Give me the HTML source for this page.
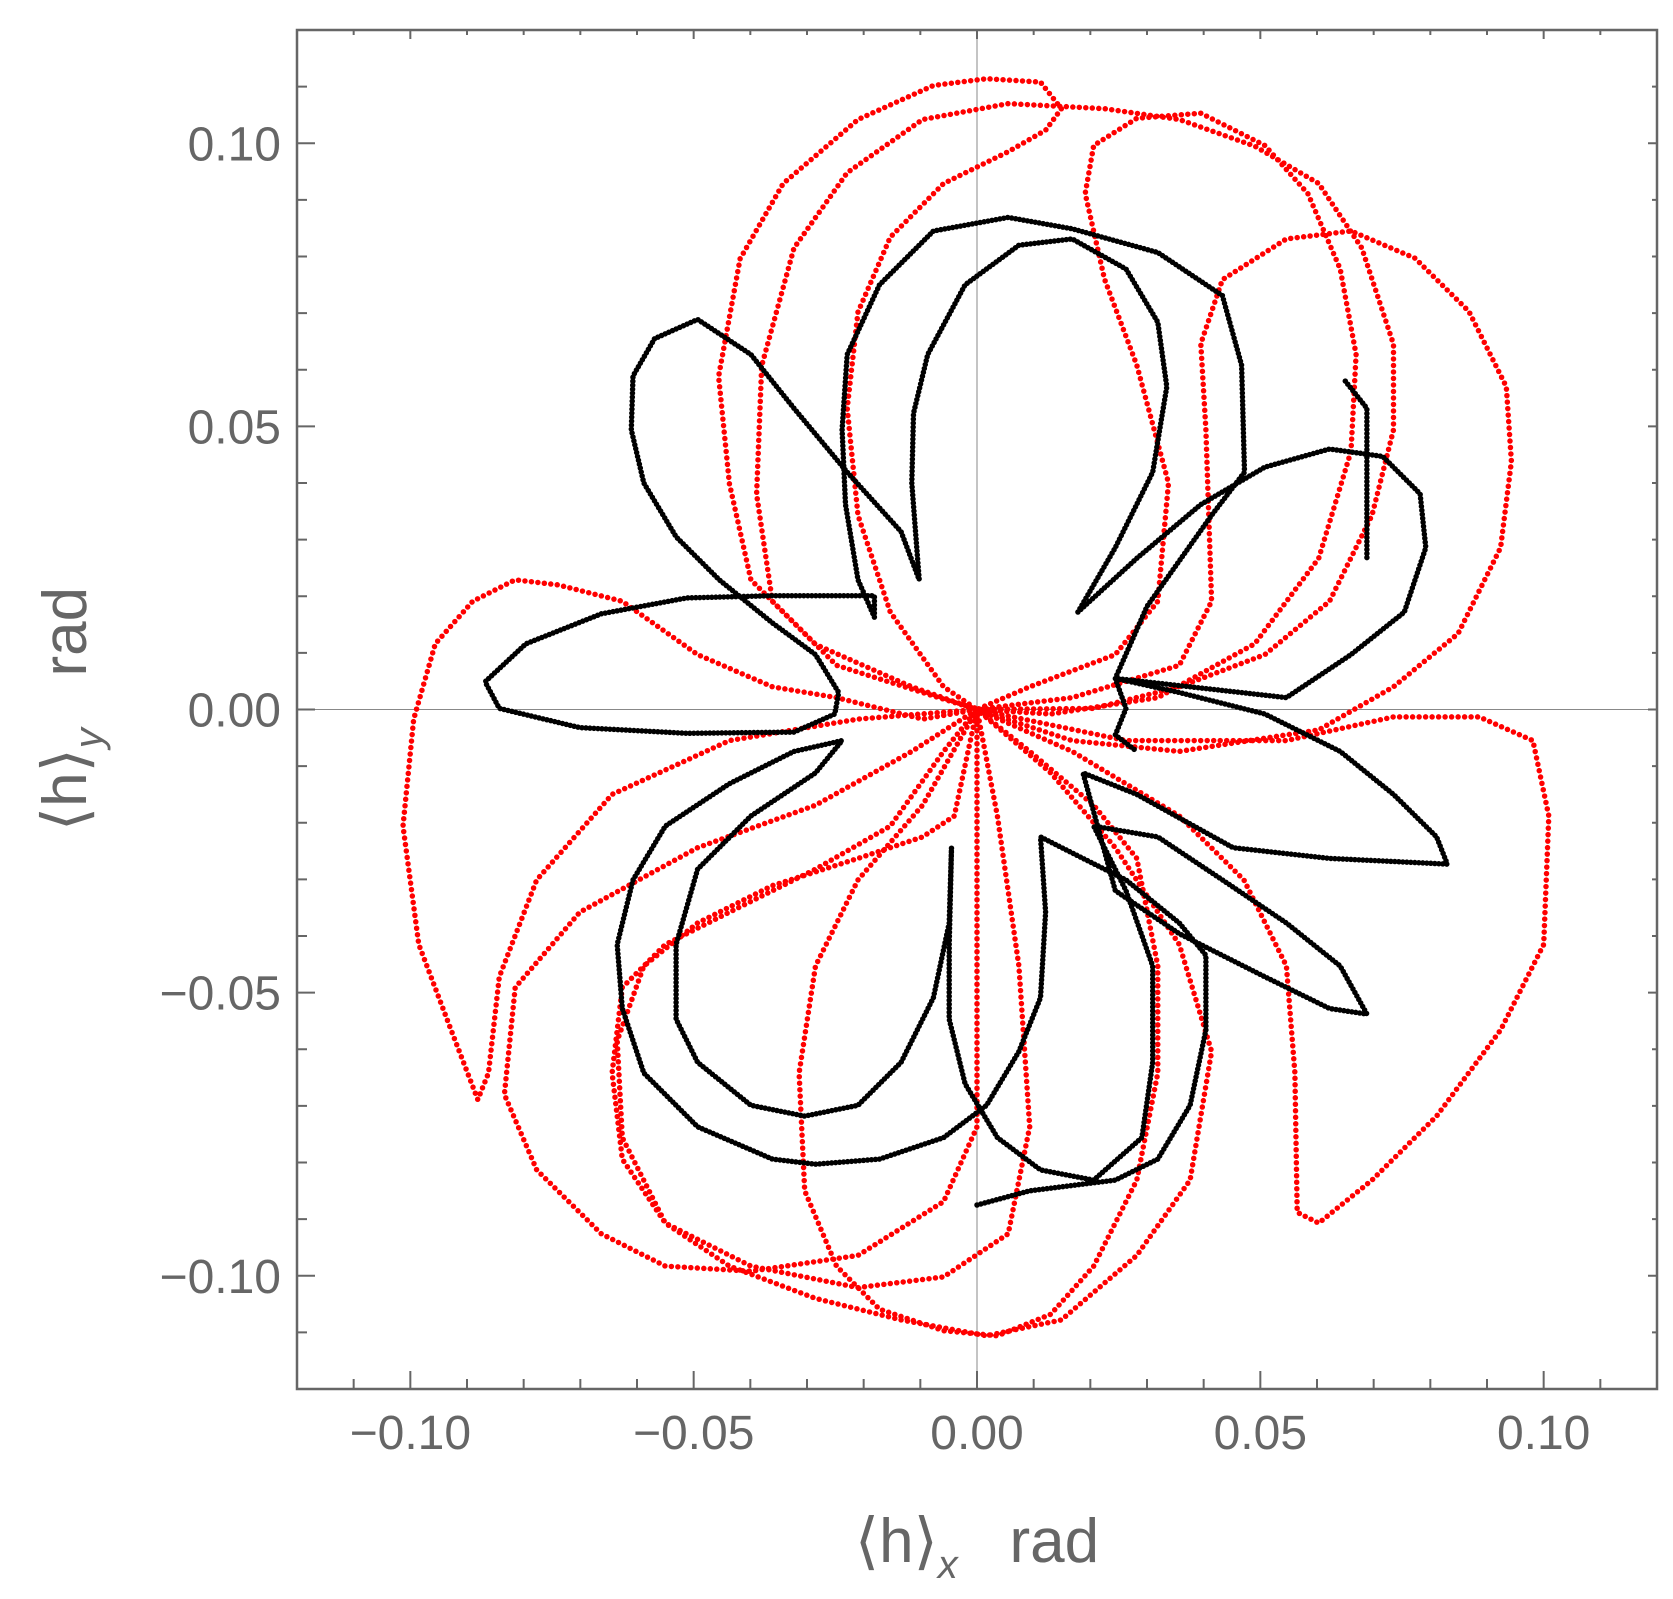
<!DOCTYPE html>
<html><head><meta charset="utf-8"><style>
html,body{margin:0;padding:0;background:#fff;}
svg{display:block;font-family:"Liberation Sans",sans-serif;}
</style></head><body>
<svg id="chart" width="1673" height="1599" viewBox="0 0 1673 1599" xmlns="http://www.w3.org/2000/svg">
<g id="axes"></g>
<g id="series"></g>
<text x="977" y="1562" text-anchor="middle" font-size="62" fill="#666">⟨h⟩<tspan font-size="40" font-style="italic" dy="16">x</tspan><tspan dy="-16" xml:space="preserve">   rad</tspan></text>
<text transform="translate(86,709) rotate(-90)" text-anchor="middle" font-size="62" fill="#666">⟨h⟩<tspan font-size="40" font-style="italic" dy="16">y</tspan><tspan dy="-16" xml:space="preserve">   rad</tspan></text>
</svg>
<script>
// data in milliradians
const xTicks = [-0.10, -0.05, 0.00, 0.05, 0.10];
const yTicks = [-0.10, -0.05, 0.00, 0.05, 0.10];
const tickLabels = ["\u22120.10", "\u22120.05", "0.00", "0.05", "0.10"];
const blackX = [0,9.3,24.4,31.9,37.6,40.4,40.4,35.7,26.3,18.7,11.2,12.1,11.2,7.4,1.7,-5.9,-17.2,-28.5,-36.1,-49.3,-58.8,-62.6,-63.5,-60.7,-55,-43.7,-32.3,-23.8,-28.5,-39.9,-49.3,-53.1,-53.1,-49.3,-39.9,-30.4,-21,-13.4,-7.7,-4.9,-4.5,-4.9,-4.9,-2.1,3.6,11.2,20.6,29.1,31,31,26.3,20.6,31.9,43.3,54.6,64.1,68.8,62.2,50.8,35.7,24.4,18.7,28.2,45.2,62.2,83,81.1,73.5,64.1,50.8,35.7,24.4,54.6,66,75.4,79.2,78.2,71.6,62.2,50.8,39.5,28.2,17.8,24.4,31,33.5,31.9,26.3,16.8,7.4,-2.1,-8.7,-11.2,-11.5,-10.2,-13.4,-22.9,-32.3,-39.9,-49.3,-56.9,-60.7,-61,-58.8,-53.1,-45.5,-36.1,-28.5,-24.4,-25.1,-32.3,-51.2,-70.1,-84.3,-86.8,-79.6,-66.3,-51.2,-36.1,-18.1,-18.1,-21,-23.2,-23.8,-22.9,-17.2,-7.7,5.5,16.8,31.9,43.3,46.7,47.2,41.4,30,24.4,26.3,24.4,28.2];
const blackY = [-87.5,-85,-83.1,-79.4,-69.9,-56.6,-43.4,-37.7,-30.1,-26.3,-22.5,-35.8,-50.9,-60.4,-69.9,-75.6,-79.4,-80.3,-79.4,-73.7,-64.2,-52.8,-41.5,-30.1,-20.6,-13.1,-7.4,-5.5,-11.2,-18.8,-28.2,-41.5,-54.7,-62.3,-69.9,-71.8,-69.9,-62.3,-50.9,-37.7,-24.4,-41.5,-54.7,-66.1,-75.6,-81.3,-83.1,-75.6,-62.3,-45.3,-32,-20.6,-22.5,-30.1,-37.7,-45.3,-53.8,-52.8,-47.2,-39.6,-32,-11.2,-15,-24.4,-26.3,-27.3,-22.5,-15,-7.4,-0.8,3,5.5,2.1,9.7,17.2,28.6,38.1,44.7,46,42.8,36.2,26.7,17.2,28.6,41.9,57,68.4,77.8,83.1,82,75,62.7,52.3,40,22.9,31.4,41.9,53.2,62.7,68.9,65.5,58.9,49.4,40,30.5,22.9,15.3,9.7,3,-0.8,-4,-4.2,-3.2,0.2,4.9,11.6,16.9,19.7,20.1,20.1,16.3,22.9,36.2,49.4,62.7,75,84.5,86.9,84.9,80.7,73.1,60.8,41.9,34.3,18.2,5.5,0.2,-4.5,-7.4];
const black2X = [65,68.8,68.8];
const black2Y = [58,53.2,26.7];
const redX = [0,-11.5,-28.5,-39.9,-43.7,-45.6,-41.8,-34.2,-21,-7.7,1.7,11.2,14.9,12.1,5.5,-5.9,-15.3,-21,-22.9,-21,-15.3,-5.9,0,
-9.6,-24.8,-36.1,-38.9,-38,-32.3,-22.9,-9.6,5.5,22.5,35.7,49,60.3,67.9,73.5,73.5,69.7,62.2,50.8,35.7,20.6,0,
9.3,24.4,31.9,33.8,28.2,22.5,19.1,20.6,28.2,39.5,50.8,58.4,64.1,66.9,66,60.3,49,31.9,13,0,
16.8,35.7,41.4,40.4,39.5,43.3,54.6,66,77.3,86.8,93.4,94.3,92.4,84.9,73.5,60.3,35.7,16.8,0,
26.3,54.6,73.5,88.6,98.1,100.9,100,92.4,81.1,69.7,60.3,56.5,56.1,54.6,47.1,35.7,16.8,0,
9.3,20.6,28.2,31.9,31.9,28.2,20.6,13,3.6,-5.9,-17.2,-24.8,-30.4,-31.4,-28.5,-21,-9.6,0,
13,24.4,35.7,41.4,37.6,28.2,14.9,1.7,-13.4,-28.5,-43.7,-55,-62.6,-63.5,-58.8,-49.3,-36.1,-21,-9.6,-4,0,
-9.6,-24.8,-36.1,-49.3,-62.6,-73.9,-81.5,-89,-95.6,-99.4,-101.3,-98.5,-92.8,-88.1,-86.2,-84.3,-77.7,-64.4,-43.7,-21,0,
-5.9,-15.3,-28.5,-43.7,-55,-62.6,-64.4,-62.6,-55,-39.9,-21,-5.9,5.5,9.3,7.4,3.6,0,
-11.5,-28.5,-49.3,-70.1,-81.5,-83.4,-77.7,-66.3,-55,-39.9,-21,-5.9,0,0,0];
const redY = [0,4,11.5,22.9,39.9,58.8,79.6,92.9,104.2,110.2,111.4,110.8,106.1,102.3,98.5,92.9,83.4,70.2,53.2,34.3,17.2,4,0,
3,7.8,19.1,38,60.7,81.5,94.8,104.2,107,106.1,104.2,99.5,92.9,81.5,64.5,49.4,34.3,19.1,9.7,4,0.2,0,
4,9.7,19.1,40,60.8,76,91.1,99.6,104.4,105.3,99.6,91.1,77.8,62.7,45.6,26.7,11.6,2.1,-0.8,0,
2.1,7.8,19.1,49.4,64.6,75.9,83.1,84.5,79.7,70.3,57,43.8,28.6,13.4,4,-3.6,-7.4,-5.5,0,
-5.5,-5.5,-1.3,-1.3,-5.5,-18.8,-41.5,-56.6,-71.8,-83.1,-90.7,-88.8,-64.2,-45.3,-30.1,-18.8,-7.4,0,
-7.4,-16.9,-26.3,-45.3,-64.2,-83.1,-98.3,-106.8,-110.6,-109.7,-105.9,-98.3,-85,-64.2,-45.3,-30.1,-16.9,0,
-11.2,-24.4,-41.5,-60.4,-83.1,-96.4,-107.8,-110.6,-107.8,-104,-98.3,-90.7,-75.6,-58.5,-45.3,-37.7,-31.1,-26.3,-22.5,-18.8,0,
-1.7,2.1,4,9.7,19.1,22,22.9,19.1,11.6,-1.7,-20.6,-41.5,-56.6,-68.9,-64.2,-47.2,-30.1,-15,-5.5,-1.7,0,
-7.4,-20.6,-28.2,-35.8,-41.5,-49.1,-64.2,-79.4,-90.7,-98.3,-102.1,-100.2,-92.6,-73.7,-45.3,-18.8,0,
-7.4,-16.9,-24.4,-35.8,-49.1,-68,-81.3,-92.6,-98.3,-99.2,-96.4,-86.9,-73.7,-26.3,0];

const NS="http://www.w3.org/2000/svg";
const L=297,R=1657,T=30,B=1389,MIN=-0.12,MAX=0.12;
function sx(v){return L+(v-MIN)/(MAX-MIN)*(R-L);}
function sy(v){return B-(v-MIN)/(MAX-MIN)*(B-T);}
const axes=document.getElementById('axes');
function mk(tag,attrs,parent){const e=document.createElementNS(NS,tag);for(const k in attrs)e.setAttribute(k,attrs[k]);parent.appendChild(e);return e;}
let e;
e=mk('line',{x1:sx(0),x2:sx(0),y1:T,y2:B,stroke:'#888','stroke-width':1},axes);


e=mk('line',{x1:L,x2:R,y1:sy(0),y2:sy(0),stroke:'#888','stroke-width':1},axes);


for(let i=-11;i<=11;i++){
  const v=i/100, major=(i%5===0), len=major?18:10;
  const X=sx(v),Y=sy(v);
  mk('line',{x1:X,x2:X,y1:B,y2:B-len,stroke:'#666','stroke-width':2},axes);
  mk('line',{x1:X,x2:X,y1:T,y2:T+len*0.5,stroke:'#666','stroke-width':2},axes);
  mk('line',{x1:L,x2:L+len,y1:Y,y2:Y,stroke:'#666','stroke-width':2},axes);
  mk('line',{x1:R,x2:R-len*0.5,y1:Y,y2:Y,stroke:'#666','stroke-width':2},axes);
}
e=mk('rect',{x:L,y:T,width:R-L,height:B-T,fill:'none',stroke:'#666','stroke-width':2.5},axes);


xTicks.forEach((v,i)=>{
  const t=mk('text',{x:sx(v),y:1449,'text-anchor':'middle','font-size':48,fill:'#666'},axes);
  t.textContent=tickLabels[i];
  
  
});
yTicks.forEach((v,i)=>{
  const t=mk('text',{x:281,y:sy(v)+17,'text-anchor':'end','font-size':48,fill:'#666'},axes);
  t.textContent=tickLabels[i];
  
  
});
const ser=document.getElementById('series');
function draw(xs,ys,color,w,gap,name){
  const pts=xs.map((x,i)=>sx(x/1000).toFixed(1)+','+sy(ys[i]/1000).toFixed(1)).join(' ');
  const p=mk('polyline',{points:pts,fill:'none',stroke:color,'stroke-width':w,'stroke-linecap':'round','stroke-linejoin':'round','stroke-dasharray':'0 '+gap},ser);
  
  
}
draw(redX,redY,'#ff0000',5.5,6.5,'red-trajectory');
draw(blackX,blackY,'#000',5.5,4,'black-trajectory');
draw(black2X,black2Y,'#000',5.5,4,'black-trajectory-segment');
</script>
</body></html>
